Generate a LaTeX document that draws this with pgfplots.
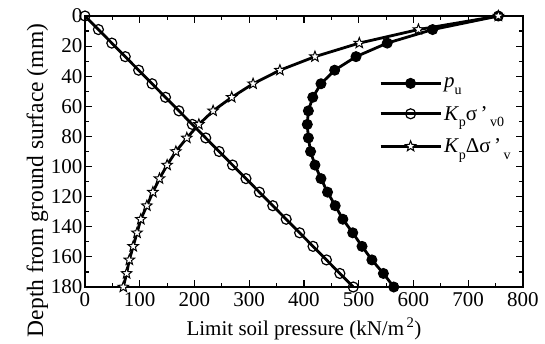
\documentclass[border=0pt]{standalone}
\usepackage{fontspec}
\setmainfont{Liberation Serif}
\usepackage{pgfplots}
\pgfplotsset{compat=1.18}
\pgfdeclareplotmark{fivestar}{%
 \pgfpathmoveto{\pgfpointpolar{90}{\pgfplotmarksize}}%
 \pgfpathlineto{\pgfpointpolar{126}{0.42\pgfplotmarksize}}%
 \pgfpathlineto{\pgfpointpolar{162}{\pgfplotmarksize}}%
 \pgfpathlineto{\pgfpointpolar{198}{0.42\pgfplotmarksize}}%
 \pgfpathlineto{\pgfpointpolar{234}{\pgfplotmarksize}}%
 \pgfpathlineto{\pgfpointpolar{270}{0.42\pgfplotmarksize}}%
 \pgfpathlineto{\pgfpointpolar{306}{\pgfplotmarksize}}%
 \pgfpathlineto{\pgfpointpolar{342}{0.42\pgfplotmarksize}}%
 \pgfpathlineto{\pgfpointpolar{18}{\pgfplotmarksize}}%
 \pgfpathlineto{\pgfpointpolar{54}{0.42\pgfplotmarksize}}%
 \pgfpathclose
 \pgfusepathqfillstroke}
\newcommand{\sub}[1]{\raisebox{-0.7ex}{\fontsize{14}{14}\selectfont #1}}
\begin{document}
\begin{tikzpicture}
\useasboundingbox (-85pt,-56pt) rectangle (460pt,287pt);
\begin{axis}[
  scale only axis,
  width=438pt, height=271pt,
  xmin=0, xmax=800, ymin=0, ymax=180,
  y dir=reverse,
  xtick={0,100,...,800}, ytick={0,20,...,180},
  minor x tick num=1, minor y tick num=1,
  tick align=inside,
  major tick length=7pt, minor tick length=4pt,
  every tick/.style={black, line width=1.2pt},
  axis line style={line width=1.8pt},
  xtick pos=both, ytick pos=both,
  xticklabel pos=bottom, yticklabel pos=left,
  /pgf/number format/assume math mode=true,
  tick label style={font=\fontsize{21}{24}\selectfont},
  xticklabel style={yshift=-1.5pt},
  yticklabel style={xshift=1pt},
  xlabel={Limit soil pressure (kN/m\textsuperscript{\,2})},
  ylabel={Depth from ground surface (mm)},
  xlabel style={font=\fontsize{21}{24}\selectfont, yshift=-5pt},
  ylabel style={font=\fontsize{23.5}{24}\selectfont, yshift=-4pt, xshift=-29pt},
  clip=false,
  legend style={at={(axis cs:537,39.5)}, anchor=north west, draw=none, fill=none,
    font=\fontsize{21}{24}\selectfont, row sep=13pt, inner sep=0pt,
    /tikz/every even column/.append style={column sep=2pt}},
  legend cell align=left,
  legend image code/.code={\draw[#1,mark repeat=2,mark phase=2] plot coordinates {(0pt,0pt) (30pt,0pt) (60pt,0pt)};},
]
\addplot[black, line width=2.8pt, mark=*, mark size=5pt, mark options={solid, line width=1pt, fill=black}]
coordinates {(755,0) (635,9) (552,18) (495,27) (456,36) (431,45) (416,54) (408,63) (406,72) (408,81) (412,90) (420,99) (431,108) (443,117) (457,126) (471,135) (489,144) (506,153) (524,162) (545,171) (564,180)};
\addlegendentry{\textit{p}\sub{u}}
\addplot[black, line width=2.8pt, mark=o, mark size=5pt, mark options={solid, line width=1.2pt, fill=white}]
coordinates {(0,0) (24.5,9) (49,18) (73.5,27) (98,36) (122.5,45) (147,54) (171.5,63) (196,72) (220.5,81) (245,90) (269.5,99) (294,108) (318.5,117) (343,126) (367.5,135) (392,144) (416.5,153) (441,162) (465.5,171) (490,180)};
\addlegendentry{\textit{K}\sub{p}σ\,'\sub{\,v0}}
\addplot[black, line width=2.8pt, mark=fivestar, mark size=5.5pt, mark options={solid, line width=1pt, fill=white}]
coordinates {(755,0) (609,9) (501,18) (420,27) (356,36) (307,45) (268,54) (234,63) (208,72) (186,81) (166,90) (150,99) (136,108) (124,117) (113,126) (102,135) (95,144) (88,153) (81,162) (76,171) (70,180)};
\addlegendentry{\textit{K}\sub{p}Δσ\,'\sub{\,v}}
\end{axis}
\end{tikzpicture}
\end{document}
